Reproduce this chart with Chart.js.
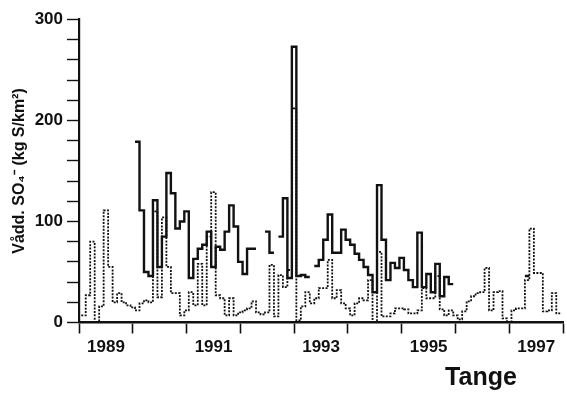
<!DOCTYPE html>
<html>
<head>
<meta charset="utf-8">
<script src="https://cdn.jsdelivr.net/npm/chart.js@4/dist/chart.umd.min.js"></script>
<style>
  html, body { margin: 0; padding: 0; background: #fff; }
  #wrap { width: 567px; height: 397px; }
</style>
</head>
<body>
<div id="wrap"><canvas id="so4-chart" width="567" height="397"></canvas></div>
<script>
// Monthly sulphate export at Tange, 1989–1997
// Each value holds for one month; the steps sit at mid-month.

const FIRST_YEAR = 1989;
const LAST_YEAR = 1998;
const STEP_START = FIRST_YEAR + 0.5 / 12;

const yearLabels = ['1989', '1991', '1993', '1995', '1997'];
const yTickLabels = ['0', '100', '200', '300'];

// dotted series, one row per year
const dottedValues = [
    7, 27, 80, 0, 16, 111, 55, 20, 29, 20, 17, 15,
    12, 19, 22, 20, 110, 25, 104, 55, 29, 29, 7, 12,
    30, 17, 58, 17, 85, 129, 27, 24, 7, 24, 7, 10,
    12, 14, 21, 10, 8, 10, 57, 6, 47, 35, 52, 212,
    2, 16, 30, 19, 24, 34, 34, 62, 24, 32, 19, 14,
    7, 19, 24, 22, 42, 0, 70, 6, 6, 9, 14, 14,
    13, 9, 9, 12, 34, 24, 24, 46, 13, 7, 12, 7,
    3, 11, 21, 26, 29, 30, 54, 12, 30, 31, 4, 0,
    12, 14, 14, 42, 93, 49, 49, 11, 12, 29, 9
];

// solid series, gaps where no data
const solidValues = [
    null, null, null, null, null, null, null, null, null, null, null, null,
    179, 111, 50, 46, 121, 55, 85, 148, 128, 93, 100, 110,
    44, 63, 73, 77, 90, 55, 75, 72, 90, 116, 95, 60,
    48, 73, 73, null, null, 90, 69, null, 85, 123, 44, 273,
    46, 47, 45, null, 56, 62, 82, 107, 69, 69, 92, 82,
    77, 68, 62, 55, 47, 30, 136, 82, 42, 59, 54, 64,
    52, 42, 35, 89, 35, 48, 30, 58, 26, 45, 38, null,
    null, null, null, null, null, null, null, null, null, null, null, null,
    null, null, null, 46, null, null, null, null, null, null, null
];

// turn monthly values into flat steps: start and end of each month
function toSteps(values) {
    const pts = [];
    values.forEach((v, i) => {
        const x0 = STEP_START + i / 12;
        if (v === null) {
            pts.push({ x: x0, y: null });
        } else {
            pts.push({ x: x0, y: v }, { x: x0 + 1 / 12, y: v });
        }
    });
    return pts;
}

const INK = '#111';
const FONT = '"Liberation Sans", Arial, Helvetica, sans-serif';
Chart.defaults.font.family = FONT;
Chart.defaults.color = INK;

const stationLabel = {
    id: 'stationLabel',
    afterDraw(chart) {
        const ctx = chart.ctx;
        ctx.save();
        ctx.font = 'bold 25px ' + FONT;
        ctx.fillStyle = INK;
        ctx.textAlign = 'center';
        ctx.textBaseline = 'alphabetic';
        ctx.fillText('Tange', 481, 385);
        ctx.restore();
    }
};

new Chart(document.getElementById('so4-chart'), {
    type: 'line',
    data: {
        datasets: [
            {
                data: toSteps(solidValues),
                borderColor: INK, borderWidth: 2.4,
                pointRadius: 0, spanGaps: false, tension: 0
            },
            {
                data: toSteps(dottedValues),
                borderColor: INK, borderWidth: 1.8, borderDash: [2, 1.4],
                pointRadius: 0, spanGaps: false, tension: 0
            }
        ]
    },
    options: {
        responsive: false,
        animation: false,
        layout: { padding: { top: 19.5, right: 0, bottom: 0, left: 0 } },
        plugins: { legend: { display: false }, tooltip: { enabled: false } },
        scales: {
            x: {
                type: 'linear',
                min: FIRST_YEAR, max: LAST_YEAR,
                afterFit: s => { s.height = 74.5; },
                afterBuildTicks: s => {
                    s.ticks = [];
                    for (let y = FIRST_YEAR; y <= LAST_YEAR; y++) s.ticks.push({ value: y });
                },
                ticks: {
                    autoSkip: false, maxRotation: 0,
                    labelOffset: 27, padding: 4,
                    color: INK, font: { size: 17, weight: 'bold' },
                    callback: v => yearLabels.includes(String(v)) ? String(v) : ''
                },
                grid: { drawOnChartArea: false, drawTicks: true, tickLength: 11, tickColor: INK, tickWidth: 1.6 },
                border: { color: INK, width: 2.6 }
            },
            y: {
                min: 0, max: 300,
                afterFit: s => { s.width = 79; },
                ticks: {
                    stepSize: 20, autoSkip: false, padding: 4,
                    color: INK, font: { size: 17, weight: 'bold' },
                    callback: v => yTickLabels.includes(String(v)) ? String(v) : ''
                },
                grid: { drawOnChartArea: false, drawTicks: true, tickLength: 12, tickColor: INK, tickWidth: 1.4 },
                border: { color: INK, width: 2.2 },
                title: {
                    display: true,
                    text: 'Vådd. SO₄⁻ (kg S/km²)',
                    color: INK,
                    font: { size: 16, weight: 'bold' },
                    padding: { top: 10, bottom: 0 }
                }
            }
        }
    },
    plugins: [stationLabel]
});
</script>
</body>
</html>
